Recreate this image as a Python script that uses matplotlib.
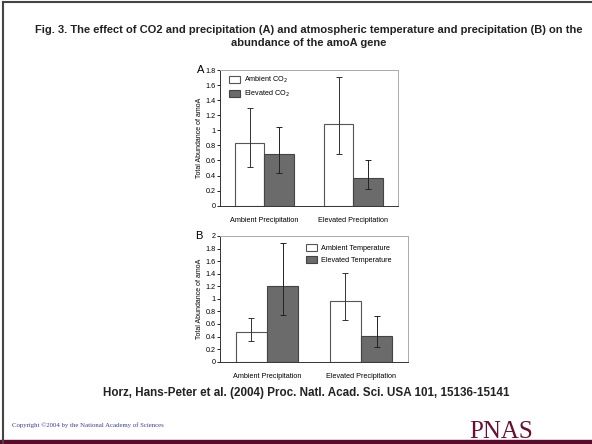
import numpy as np
import matplotlib
matplotlib.use('Agg')
from matplotlib import pyplot as plt
from matplotlib.lines import Line2D
from matplotlib.patches import Rectangle

plt.rcParams['font.family'] = ['Liberation Sans', 'DejaVu Sans']

# Data
groups = ['Ambient Precipitation', 'Elevated Precipitation']

# Panel A: CO2 treatment
a_labels = ['Ambient CO$_2$', 'Elevated CO$_2$']
a_ambient = [0.83, 1.08]
a_ambient_lo = [0.52, 0.69]
a_ambient_hi = [1.29, 1.71]
a_elevated = [0.68, 0.37]
a_elevated_lo = [0.44, 0.22]
a_elevated_hi = [1.05, 0.60]

# Panel B: temperature treatment
b_labels = ['Ambient Temperature', 'Elevated Temperature']
b_ambient = [0.47, 0.97]
b_ambient_lo = [0.33, 0.67]
b_ambient_hi = [0.69, 1.41]
b_elevated = [1.20, 0.41]
b_elevated_lo = [0.75, 0.23]
b_elevated_hi = [1.89, 0.72]

title = ('Fig. 3. The effect of CO2 and precipitation (A) and atmospheric temperature and precipitation (B) on the\n'
         'abundance of the amoA gene')
citation = 'Horz, Hans-Peter et al. (2004) Proc. Natl. Acad. Sci. USA 101, 15136-15141'
copyright = 'Copyright \u00a92004 by the National Academy of Sciences'

fig = plt.figure(figsize=(5.92, 4.44), dpi=100)
fig.patch.set_facecolor('white')

# slide frame
fig.add_artist(Line2D([0.0045, 1.0], [0.9955, 0.9955], color='#444444', lw=1.5))
fig.add_artist(Line2D([0.0045, 0.0045], [0.0, 0.9955], color='#444444', lw=1.5))
fig.add_artist(Rectangle((0, 0), 1, 0.009, color='#5a0a2a', transform=fig.transFigure))


def draw_panel(ax, amb, amb_lo, amb_hi, elev, elev_lo, elev_hi, labels, ymax, legend_anchor):
    x = np.arange(len(groups))
    w = 0.33
    amb = np.array(amb)
    elev = np.array(elev)
    ax.bar(x - w / 2, amb, w, color='white', edgecolor='#555555', lw=0.8, label=labels[0])
    ax.bar(x + w / 2, elev, w, color='#6b6b6b', edgecolor='#444444', lw=0.8, label=labels[1])
    ax.errorbar(x - w / 2, amb, yerr=[amb - np.array(amb_lo), np.array(amb_hi) - amb],
                fmt='none', ecolor='#333333', elinewidth=0.7, capsize=2.2, capthick=0.7)
    ax.errorbar(x + w / 2, elev, yerr=[elev - np.array(elev_lo), np.array(elev_hi) - elev],
                fmt='none', ecolor='#222222', elinewidth=0.7, capsize=2.2, capthick=0.7)
    ax.set_xlim(-0.5, 1.5)
    ax.set_ylim(0, ymax)
    ticks = np.arange(0, ymax + 0.01, 0.2)
    ax.set_yticks(ticks)
    ax.set_yticklabels([f'{v:g}' for v in np.round(ticks, 1)])
    ax.set_xticks(x)
    ax.set_xticklabels(groups)
    ax.tick_params(axis='y', labelsize=5.2, length=2.2, width=0.6, pad=1)
    ax.tick_params(axis='x', labelsize=5.2, length=0, pad=8)
    ax.set_ylabel('Total Abundance of amoA', fontsize=5, labelpad=2)
    for s in ['left', 'bottom']:
        ax.spines[s].set_color('#333333')
        ax.spines[s].set_linewidth(0.7)
    for s in ['top', 'right']:
        ax.spines[s].set_color('#aaaaaa')
        ax.spines[s].set_linewidth(0.7)
    ax.legend(loc='upper left', bbox_to_anchor=legend_anchor, fontsize=5.2, frameon=False,
              handlelength=1.55, handleheight=1.25, handletextpad=0.6, labelspacing=0.55,
              borderaxespad=0, borderpad=0)


axA = fig.add_axes([0.3716, 0.5367, 0.3007, 0.3056])
draw_panel(axA, a_ambient, a_ambient_lo, a_ambient_hi, a_elevated, a_elevated_lo, a_elevated_hi,
           a_labels, 1.8, (0.05, 0.965))
axA.text(-0.13, 1.0, 'A', transform=axA.transAxes, fontsize=8, ha='left', va='center')

axB = fig.add_axes([0.3716, 0.1854, 0.3176, 0.2831])
draw_panel(axB, b_ambient, b_ambient_lo, b_ambient_hi, b_elevated, b_elevated_lo, b_elevated_hi,
           b_labels, 2.0, (0.456, 0.94))
axB.text(-0.13, 1.0, 'B', transform=axB.transAxes, fontsize=8, ha='left', va='center')

fig.text(0.522, 0.918, title, ha='center', va='center', fontsize=8.05, fontweight='bold',
         linespacing=1.4, color='#222222')
fig.text(0.517, 0.115, citation, ha='center', va='center', fontsize=8.4, fontweight='bold',
         color='#222222')
fig.text(0.021, 0.043, copyright, ha='left', va='center', fontsize=4.9,
         family='Liberation Serif', color='#3a3aa0')
fig.text(0.847, 0.014, 'PNAS', ha='center', va='baseline', fontsize=18,
         family='Liberation Serif', color='#6b0f30')

fig.savefig('out.png', dpi=100)
